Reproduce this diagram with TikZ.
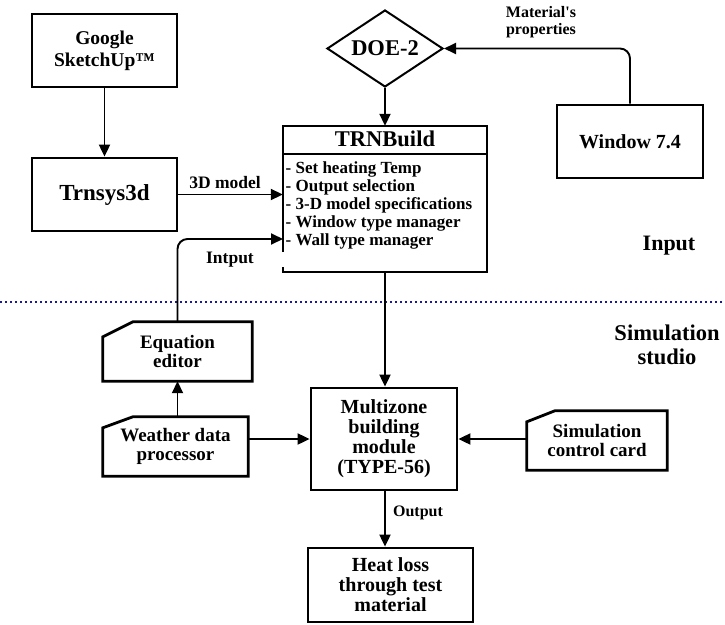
\documentclass[tikz,border=0pt]{standalone}
\usepackage{fontspec}
\setmainfont{Liberation Serif}
\usetikzlibrary{arrows.meta,shapes.geometric}
\begin{document}
\begin{tikzpicture}[x=1pt,y=-1pt,
  bx/.style={draw,line width=2.8pt,inner sep=0pt,align=center},
  plain/.style={inner sep=0pt,align=center},
  heavy/.style={line width=2.8pt,line join=miter},
  arr/.style={line width=1.9pt,-{Triangle[length=12pt,width=11pt]}},
  lbl/.style={inner sep=0pt,align=center}]
\useasboundingbox (0,0) rectangle (725,624);

% Input part
\node[bx,minimum width=145pt,minimum height=73pt,font=\bfseries\fontsize{19.5}{22}\selectfont] (google) at (104.5,50.5) {Google\\SketchUp™};
\node[bx,minimum width=145pt,minimum height=73pt,font=\bfseries\fontsize{23}{24}\selectfont] (trnsys) at (104.5,194.5) {Trnsys3d};
\node[draw,shape=diamond,aspect=1.5,inner sep=0pt,line width=2pt,minimum width=116pt,minimum height=77pt,font=\bfseries\fontsize{22.5}{24}\selectfont] (doe) at (385,48.5) {DOE-2};
\node[bx,minimum width=146pt,minimum height=73pt,font=\bfseries\fontsize{20}{22}\selectfont] (win) at (630,141.5) {Window 7.4};

% TRNBuild box
\node[plain,minimum width=204pt,minimum height=146pt] (trn) at (385,199) {};
\draw[line width=2pt] ([yshift=20pt]trn.south west) -- (trn.north west) -- (trn.north east) -- (trn.south east) -- (trn.south west) -- ([yshift=5pt]trn.south west);
\draw[line width=2pt] (trn.west |- 0,154) -- (trn.east |- 0,154);
\node[lbl,font=\bfseries\fontsize{22.5}{24}\selectfont] (trntitle) at (385,139) {TRNBuild};
\node[lbl,anchor=base west,font=\bfseries\fontsize{17}{18}\selectfont] (i1) at (285.5,173) {- Set heating Temp};
\node[lbl,anchor=base west,font=\bfseries\fontsize{17}{18}\selectfont] (i2) at (285.5,191) {- Output selection};
\node[lbl,anchor=base west,font=\bfseries\fontsize{17}{18}\selectfont] (i3) at (285.5,209) {- 3-D model specifications};
\node[lbl,anchor=base west,font=\bfseries\fontsize{17}{18}\selectfont] (i4) at (285.5,227) {- Window type manager};
\node[lbl,anchor=base west,font=\bfseries\fontsize{17}{18}\selectfont] (i5) at (285.5,245) {- Wall type manager};

% separator
\draw[line width=2.6pt,color={rgb,255:red,25;green,25;blue,160},dash pattern=on 2.4pt off 2.6pt] (0,302) -- (725,302);

% Simulation studio part
\node[plain,minimum width=149pt,minimum height=59pt,font=\bfseries\fontsize{19}{19}\selectfont] (eq) at (177.5,351.5) {Equation\\editor};
\draw[heavy] ([yshift=-15pt]eq.north west) -- ([xshift=30pt]eq.north west) -- (eq.north east) -- (eq.south east) -- (eq.south west) -- cycle;
\node[plain,minimum width=145pt,minimum height=59pt,font=\bfseries\fontsize{19}{19}\selectfont] (weather) at (175.5,446.5) {Weather data\\processor};
\draw[heavy] ([yshift=-11pt]weather.north west) -- ([xshift=30pt]weather.north west) -- (weather.north east) -- (weather.south east) -- (weather.south west) -- cycle;
\node[plain,minimum width=140pt,minimum height=59pt,font=\bfseries\fontsize{19}{19}\selectfont] (sim) at (597,440.5) {Simulation\\control card};
\draw[heavy] ([yshift=-11pt]sim.north west) -- ([xshift=28pt]sim.north west) -- (sim.north east) -- (sim.south east) -- (sim.south west) -- cycle;
\node[bx,minimum width=146pt,minimum height=102pt,font=\bfseries\fontsize{20}{20}\selectfont] (multi) at (384,439) {Multizone\\building\\module\\(TYPE-56)};
\node[bx,minimum width=165pt,minimum height=74pt,font=\bfseries\fontsize{20}{20}\selectfont] (heat) at (390.5,585) {Heat loss\\through test\\material};

% labels
\node[lbl,font=\bfseries\fontsize{16}{17}\selectfont] (lmat) at (541,22.5) {Material\textquotesingle s\\properties};
\node[lbl,font=\bfseries\fontsize{17.5}{18}\selectfont] (l3d) at (225,183) {3D model};
\node[lbl,font=\bfseries\fontsize{17.5}{18}\selectfont] (lint) at (230,260) {Intput};
\node[lbl,font=\bfseries\fontsize{22}{24}\selectfont] (linput) at (669,246) {Input};
\node[lbl,font=\bfseries\fontsize{22.5}{24}\selectfont] (lsim) at (667,345) {Simulation\\studio};
\node[lbl,font=\bfseries\fontsize{16}{17}\selectfont] (lout) at (418,513) {Output};

% connectors
\coordinate (intin) at (283,239);
\draw[arr] (google) -- (trnsys);
\draw[arr] (trnsys.east) -- (trnsys.east -| trn.west);
\draw[arr] (doe.south) -- (trn.north);
\draw[arr,rounded corners=10pt] (win.north) |- (doe.east);
\draw[arr,rounded corners=10pt] (eq.north) |- (intin);
\draw[arr] (eq.south |- weather.north) -- (eq.south);
\draw[arr] (trn.south) -- (multi.north -| trn.south);
\draw[arr] (multi.west -| weather.east) -- (multi.west);
\draw[arr] (sim.west |- multi.east) -- (multi.east);
\draw[arr] (multi.south -| trn.south) -- (heat.north -| trn.south);
\end{tikzpicture}
\end{document}
